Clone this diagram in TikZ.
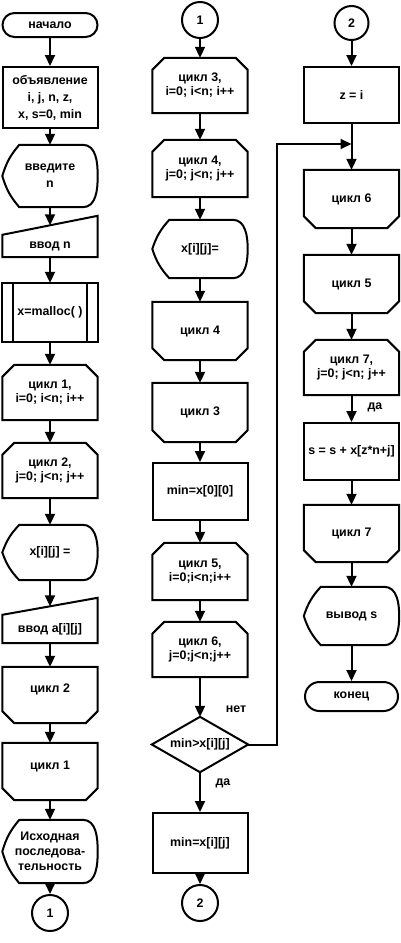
\documentclass[tikz,border=0pt]{standalone}
\usepackage{fontspec}
\setmainfont{Liberation Sans}
\usetikzlibrary{arrows.meta}
\newcommand\LoopTop[1]{\draw[ol] ([xshift=12pt]#1.north west) -- ([xshift=-12pt]#1.north east) -- ([yshift=-12pt]#1.north east) -- (#1.south east) -- (#1.south west) -- ([yshift=-12pt]#1.north west) -- cycle;}
\newcommand\LoopBot[1]{\draw[ol] (#1.north west) -- (#1.north east) -- ([yshift=12pt]#1.south east) -- ([xshift=-12pt]#1.south east) -- ([xshift=12pt]#1.south west) -- ([yshift=12pt]#1.south west) -- cycle;}
\newcommand\DispShape[1]{\draw[ol] (#1.west) to[bend left=12] ([xshift=17pt]#1.north west) -- ([xshift=-15pt]#1.north east) to[out=0,in=90] (#1.east) to[out=-90,in=0] ([xshift=-15pt]#1.south east) -- ([xshift=17pt]#1.south west) to[bend left=12] (#1.west) -- cycle;}
\newcommand\ManIn[2]{\draw[ol] (#1.south west) -- (#1.north west) -- ([yshift=#2]#1.north east) -- (#1.south east) -- cycle;}
\newcommand\Predef[1]{\draw[ol] (#1.north west) rectangle (#1.south east); \draw[ol] ([xshift=11pt]#1.north west) -- ([xshift=11pt]#1.south west); \draw[ol] ([xshift=-11pt]#1.north east) -- ([xshift=-11pt]#1.south east);}
\newcommand\Decision[1]{\draw[ol] (#1.west) -- (#1.north) -- (#1.east) -- (#1.south) -- cycle;}
\tikzset{
 txt/.style={font=\bfseries\fontsize{12.4}{14}\selectfont, align=center, inner sep=0pt},
 blk/.style={txt, rectangle, minimum width=95pt},
 rbox/.style={blk, draw, line width=2pt},
 term/.style={blk, draw, line width=2pt, rounded corners=#1},
 conn/.style={txt, circle, draw, line width=2pt, minimum size=36pt},
 arr/.style={line width=2pt, line join=miter, -{Triangle[width=10pt,length=11pt]}},
 ol/.style={line width=2pt, line join=miter}
}
\begin{document}
\begin{tikzpicture}[x=1pt,y=-1pt]
\useasboundingbox (0,0) rectangle (401,943);
% left column
\node[term=12pt, minimum height=24pt] (start) at (50,25) {начало};
\node[rbox, minimum height=61pt, font=\bfseries\fontsize{12.4}{17}\selectfont] (decl) at (50,97.5) {объявление\\i, j, n, z,\\x, s=0, min};
\node[blk, minimum height=62pt, font=\bfseries\fontsize{12.4}{17}\selectfont] (prompt) at (50,176) {введите\\n};
\node[blk, minimum height=22pt] (inN) at (50,246) {ввод n};
\node[blk, minimum height=59pt] (malloc) at (50,312.5) {x=malloc( )};
\node[blk, minimum height=55pt] (L1s) at (50,392.5) {цикл 1,\\i=0; i<n; i++};
\node[blk, minimum height=55pt] (L2s) at (50,470.5) {цикл 2,\\j=0; j<n; j++};
\node[blk, minimum height=55pt] (dx1) at (50,552.5) {x[i][j] =};
\node[blk, minimum height=28pt] (inA) at (50,629) {ввод a[i][j]};
\node[blk, minimum height=56pt, text depth=14pt] (L2e) at (50,695) {цикл 2};
\node[blk, minimum height=57pt, text depth=12pt] (L1e) at (50,771.5) {цикл 1};
\node[blk, minimum height=63pt, font=\bfseries\fontsize{12.4}{15}\selectfont] (src) at (50,851.5) {Исходная\\последова-\\тельность};
\node[conn] (c1) at (50,913) {1};
% middle column
\node[conn] (c1b) at (200,20) {1};
\node[blk, minimum height=55pt] (L3s) at (200,85.5) {цикл 3,\\i=0; i<n; i++};
\node[blk, minimum height=57pt] (L4s) at (200,168.5) {цикл 4,\\j=0; j<n; j++};
\node[blk, minimum height=58pt] (dx2) at (200,249) {x[i][j]=};
\node[blk, minimum height=58pt] (L4e) at (200,331) {цикл 4};
\node[blk, minimum height=59pt] (L3e) at (200,412.5) {цикл 3};
\node[rbox, minimum height=57pt] (min0) at (200,491.5) {min=x[0][0]};
\node[blk, minimum height=57pt] (L5s) at (200,571.5) {цикл 5,\\i=0;i<n;i++};
\node[blk, minimum height=55pt] (L6s) at (200,649.5) {цикл 6,\\j=0;j<n;j++};
\node[blk, minimum height=55pt, minimum width=96pt] (dia) at (200,744.5) {min>x[i][j]};
\node[rbox, minimum height=60pt] (minij) at (200,843) {min=x[i][j]};
\node[conn] (c2) at (200,903) {2};
% right column
\node[conn, minimum size=34pt] (c2b) at (351.5,23) {2};
\node[rbox, minimum height=56pt] (zi) at (351.5,95) {z = i};
\node[blk, minimum height=58pt] (L6e) at (351.5,199) {цикл 6};
\node[blk, minimum height=58pt] (L5e) at (351.5,284) {цикл 5};
\node[blk, minimum height=55pt] (L7s) at (351.5,367.5) {цикл 7,\\j=0; j<n; j++};
\node[rbox, minimum height=57pt] (sum) at (351.5,451.5) {s = s + x[z*n+j]};
\node[blk, minimum height=57pt] (L7e) at (351.5,533.5) {цикл 7};
\node[blk, minimum height=58pt] (outS) at (351.5,616) {вывод s};
\node[term=14.5pt, minimum height=29pt, minimum width=93pt] (fin) at (351.5,696.5) {конец};
% labels
\node[txt] (no) at (236,709) {нет};
\node[txt] (yes1) at (223,783) {да};
\node[txt] (yes2) at (375,407) {да};
% outlines
\DispShape{prompt}
\ManIn{inN}{19pt}
\Predef{malloc}
\LoopTop{L1s}
\LoopTop{L2s}
\DispShape{dx1}
\ManIn{inA}{17pt}
\LoopBot{L2e}
\LoopBot{L1e}
\DispShape{src}
\LoopTop{L3s}
\LoopTop{L4s}
\DispShape{dx2}
\LoopBot{L4e}
\LoopBot{L3e}
\LoopTop{L5s}
\LoopTop{L6s}
\Decision{dia}
\LoopBot{L6e}
\LoopBot{L5e}
\LoopTop{L7s}
\LoopBot{L7e}
\DispShape{outS}
% connectors left
\draw[arr] (start) -- (decl);
\draw[arr] (decl) -- (prompt);
\draw[arr] (prompt) -- ([yshift=9.5pt]inN.north);
\draw[arr] (inN) -- (malloc);
\draw[arr] (malloc) -- (L1s);
\draw[arr] (L1s) -- (L2s);
\draw[arr] (L2s) -- (dx1);
\draw[arr] (dx1) -- ([yshift=8.5pt]inA.north);
\draw[arr] (inA) -- (L2e);
\draw[arr] (L2e) -- (L1e);
\draw[arr] (L1e) -- (src);
\draw[arr] (src) -- (c1);
% connectors middle
\draw[arr] (c1b) -- (L3s);
\draw[arr] (L3s) -- (L4s);
\draw[arr] (L4s) -- (dx2);
\draw[arr] (dx2) -- (L4e);
\draw[arr] (L4e) -- (L3e);
\draw[arr] (L3e) -- (min0);
\draw[arr] (min0) -- (L5s);
\draw[arr] (L5s) -- (L6s);
\draw[arr] (L6s) -- (dia);
\draw[arr] (dia) -- (minij);
\draw[arr] (minij) -- (c2);
% connectors right
\coordinate (t1) at (277,744.5);
\coordinate (t2) at (277,144);
\coordinate (jn) at (351.5,144);
\draw[arr] (dia.east) -- (t1) -- (t2) -- (jn);
\draw[arr] (c2b) -- (zi);
\draw[arr] (zi) -- (L6e);
\draw[arr] (L6e) -- (L5e);
\draw[arr] (L5e) -- (L7s);
\draw[arr] (L7s) -- (sum);
\draw[arr] (sum) -- (L7e);
\draw[arr] (L7e) -- (outS);
\draw[arr] (outS) -- (fin);
\end{tikzpicture}
\end{document}
